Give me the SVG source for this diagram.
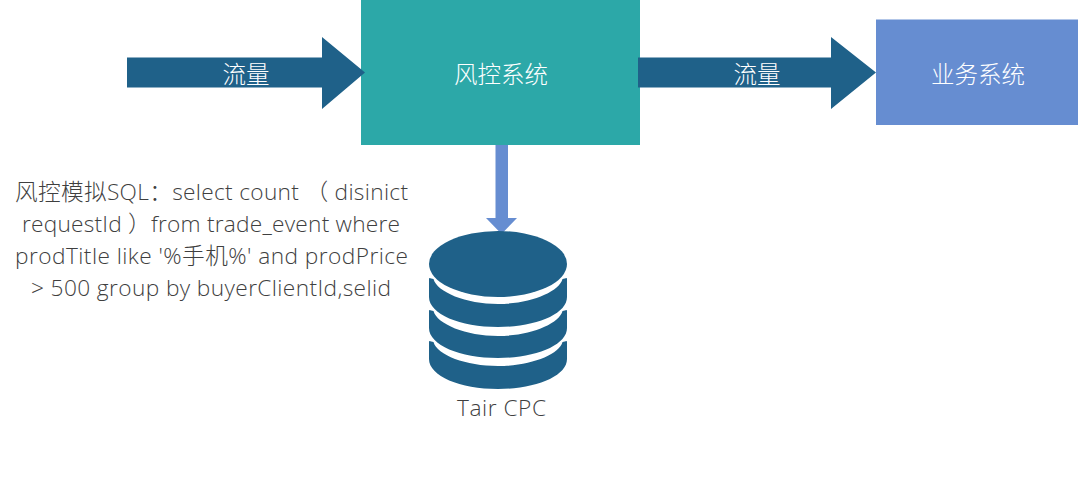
<svg xmlns="http://www.w3.org/2000/svg" width="1080" height="481" viewBox="0 0 1080 481">
<style>
.w{fill:#fff;font-family:"Open Sans","Noto Sans CJK SC",sans-serif;font-size:23.500px;font-weight:300;text-anchor:middle}
.g{fill:#3f3f3f;font-family:"Open Sans","Noto Sans CJK SC",sans-serif;font-size:22.700px;font-weight:300;text-anchor:middle}
.d{fill:#1f6189}
</style>
<rect width="1080" height="481" fill="#fff"/>
<g id="system-risk"><rect x="361" y="0" width="279" height="145" fill="#2ca8a8"/><text class="w" x="501" y="83">风控系统</text></g>
<g id="system-business"><rect x="876" y="19.500" width="202" height="105.500" fill="#668dd1"/><text class="w" x="978" y="83">业务系统</text></g>
<g id="connectors">
<g id="flow-in"><path class="d" d="M127 57.500H322V37L365 72.500L322 109V87.500H127Z"/><text class="w" x="246" y="83">流量</text></g>
<g id="flow-out"><path class="d" d="M638 57.500H831V37L876 72.500L831 109V87.500H638Z"/><text class="w" x="757" y="83">流量</text></g>
<path id="flow-down" d="M495.500 145H508V218H517L501.500 234L486 218H495.500Z" fill="#668dd1"/>
</g>
<g id="tair">
<ellipse class="d" cx="498" cy="264" rx="69" ry="33"/>
<path class="d" d="M429 279C429 277 431 279 433.500 279C437 292 466 304 498 304C530 304 559 292 562.500 279C565 279 567 277 567 279V297C567 314 536 327 498 327C460 327 429 314 429 297Z"/>
<path class="d" d="M429 311C429 309 431 311 433.500 311C437 324 466 336 498 336C530 336 559 324 562.500 311C565 311 567 309 567 311V328C567 345 536 358 498 358C460 358 429 345 429 328Z"/>
<path class="d" d="M429 342C429 340 431 342 433.500 342C437 355 466 366 498 366C530 366 559 355 562.500 342C565 342 567 340 567 342V359C567 376 536 389 498 389C460 389 429 376 429 359Z"/>
<text class="g" x="501.500" y="416" textLength="89">Tair CPC</text>
</g>
<g id="sql-note">
<text class="g" x="211.500" y="200" textLength="393">风控模拟SQL：select count （ disinict</text>
<text class="g" x="211" y="232" textLength="378">requestId ）from trade_event where</text>
<text class="g" x="211.500" y="264" textLength="393">prodTitle like '%手机%' and prodPrice</text>
<text class="g" x="211" y="296" textLength="360">&gt; 500 group by buyerClientId,selid</text>
</g>
</svg>
